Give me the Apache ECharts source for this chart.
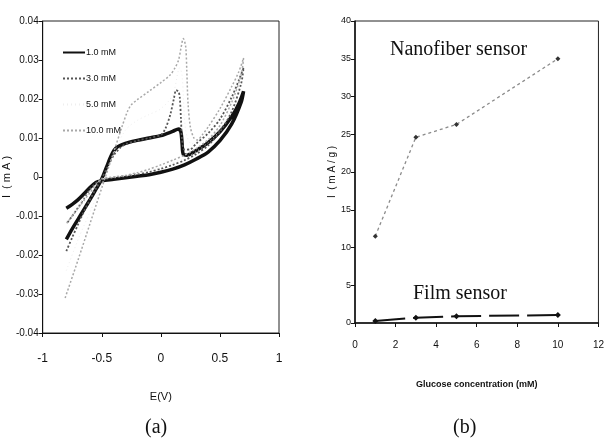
<!DOCTYPE html>
<html>
<head>
<meta charset="utf-8">
<script src="https://cdn.jsdelivr.net/npm/echarts@6/dist/echarts.min.js"></script>
<style>
  html, body { margin: 0; padding: 0; background: #fff; }
  #chart { width: 607px; height: 446px; }
</style>
</head>
<body>
<div id="chart"></div>
<script>
// --- (a) voltamogramas: pares [E (V), I (mA)] ---
const cvLabels = ['1.0 mM', '3.0 mM', '5.0 mM', '10.0 mM'];

const cv1mM = [
  [-0.80,-0.016],[-0.75,-0.0133],[-0.70,-0.0108],[-0.65,-0.0083],[-0.60,-0.0058],[-0.55,-0.0032],
  [-0.50,-0.0005],[-0.46,0.0025],[-0.42,0.0055],[-0.38,0.0074],[-0.30,0.0086],[-0.20,0.0094],
  [-0.10,0.0100],[0.00,0.0106],[0.10,0.0117],[0.15,0.0123],[0.17,0.0115],[0.18,0.0085],
  [0.19,0.0058],[0.22,0.0056],[0.30,0.0068],[0.40,0.0088],[0.50,0.0116],[0.60,0.0155],
  [0.66,0.0188],[0.70,0.0220],
  [0.68,0.0192],[0.60,0.0136],[0.50,0.0093],[0.40,0.0064],[0.30,0.0046],[0.20,0.0031],
  [0.10,0.0020],[0.00,0.0012],[-0.10,0.0006],[-0.20,0.0002],[-0.30,-0.0002],[-0.40,-0.0006],
  [-0.50,-0.0010],[-0.55,-0.0014],[-0.60,-0.0027],[-0.65,-0.0043],[-0.70,-0.0058],
  [-0.75,-0.0070],[-0.80,-0.0080]
];

const cv3mM = [
  [-0.80,-0.019],[-0.75,-0.0155],[-0.70,-0.0121],[-0.65,-0.0088],[-0.60,-0.0058],[-0.55,-0.0030],
  [-0.50,-0.0004],[-0.45,0.0026],[-0.40,0.0055],[-0.35,0.0073],[-0.30,0.0084],[-0.20,0.0093],
  [-0.10,0.0100],[0.00,0.0108],[0.04,0.0125],[0.08,0.0160],[0.11,0.0200],[0.13,0.0223],
  [0.15,0.0218],[0.16,0.0205],[0.17,0.0150],[0.18,0.0095],[0.20,0.0070],[0.25,0.0071],
  [0.30,0.0086],[0.40,0.0112],[0.50,0.0148],[0.60,0.0205],[0.66,0.0248],[0.70,0.0280],
  [0.68,0.0240],[0.60,0.0168],[0.50,0.0116],[0.40,0.0081],[0.30,0.0059],[0.20,0.0043],
  [0.10,0.0031],[0.00,0.0021],[-0.10,0.0013],[-0.20,0.0007],[-0.30,0.0002],[-0.40,-0.0002],
  [-0.50,-0.0007],[-0.55,-0.0016],[-0.60,-0.0032],[-0.65,-0.0055],[-0.70,-0.0078],
  [-0.75,-0.0100],[-0.80,-0.0120]
];

const cv5mM = [
  [-0.80,-0.024],[-0.70,-0.016],[-0.60,-0.009],[-0.50,-0.002],[-0.40,0.006],[-0.30,0.012],
  [-0.20,0.0145],[-0.10,0.016],[0.00,0.0175],[0.10,0.021],[0.16,0.028],[0.18,0.026],
  [0.21,0.012],[0.26,0.0085],[0.40,0.012],[0.50,0.016],[0.60,0.0215],[0.70,0.029],
  [0.60,0.018],[0.50,0.012],[0.40,0.0088],[0.30,0.0065],[0.20,0.0048],[0.00,0.0025],
  [-0.20,0.0008],[-0.40,-0.0001],[-0.50,-0.0006],[-0.60,-0.0035],[-0.70,-0.0075],[-0.80,-0.0115]
];

const cv10mM = [
  [-0.81,-0.0310],[-0.70,-0.0212],[-0.60,-0.0120],[-0.50,-0.0028],[-0.40,0.0063],[-0.33,0.0128],
  [-0.28,0.0170],[-0.25,0.0185],[-0.20,0.0198],[-0.10,0.0220],[0.00,0.0242],[0.08,0.0262],
  [0.12,0.0280],[0.15,0.0300],[0.17,0.0330],[0.19,0.0355],[0.21,0.0335],[0.22,0.0270],
  [0.23,0.0190],[0.25,0.0128],[0.28,0.0100],[0.31,0.0095],[0.35,0.0108],[0.40,0.0128],
  [0.50,0.0175],[0.60,0.0232],[0.66,0.0270],[0.70,0.0305],
  [0.68,0.0262],[0.60,0.0192],[0.50,0.0132],[0.40,0.0096],[0.30,0.0073],[0.20,0.0056],
  [0.10,0.0043],[0.00,0.0031],[-0.10,0.0020],[-0.20,0.0011],[-0.30,0.0004],[-0.40,0.0000],
  [-0.50,-0.0005],[-0.55,-0.0020],[-0.60,-0.0040],[-0.70,-0.0080],[-0.80,-0.0120]
];

// --- (b) resposta vs concentração ---
const glucoseConc = [1, 3, 5, 10];
const nanofiberResp = [11.5, 24.6, 26.3, 35.0];
const filmResp = [0.25, 0.7, 0.9, 1.05];

const narrow = "'Liberation Sans Narrow', 'Liberation Sans', sans-serif";
const serif = "'Liberation Serif', 'DejaVu Serif', serif";

const chart = echarts.init(document.getElementById('chart'));

const frame = { show: true, borderColor: '#222', borderWidth: 1, backgroundColor: 'transparent' };

const option = {
  backgroundColor: '#fff',
  animation: false,
  grid: [
    Object.assign({ left: 41, top: 21, width: 238, height: 312 }, frame),
    Object.assign({ left: 355, top: 21, width: 250, height: 302 }, frame)
  ],
  xAxis: [{
    gridIndex: 0, type: 'value', min: -1, max: 1, interval: 0.5,
    name: 'E(V)', nameLocation: 'middle', nameGap: 58,
    nameTextStyle: { fontFamily: narrow, fontSize: 11, color: '#111' },
    axisLine: { onZero: false, lineStyle: { color: '#111' } },
    axisTick: { length: 4, lineStyle: { color: '#111' } },
    axisLabel: { fontFamily: narrow, fontSize: 12, color: '#111', margin: 20 },
    splitLine: { show: false }
  }, {
    gridIndex: 1, type: 'value', min: 0, max: 12, interval: 2,
    name: 'Glucose concentration (mM)', nameLocation: 'middle', nameGap: 57,
    nameTextStyle: { fontFamily: narrow, fontSize: 9, color: '#111', fontWeight: 'bold' },
    axisLine: { onZero: false, lineStyle: { color: '#111', width: 1.5 } },
    axisTick: { length: 4, lineStyle: { color: '#111' } },
    axisLabel: { fontFamily: narrow, fontSize: 10, color: '#111', margin: 17 },
    splitLine: { show: false }
  }],
  yAxis: [{
    gridIndex: 0, type: 'value', min: -0.04, max: 0.04, interval: 0.01,
    name: 'I  ( m A )', nameLocation: 'middle', nameGap: 22, nameRotate: 90,
    nameTextStyle: { fontFamily: narrow, fontSize: 11, color: '#111' },
    axisLine: { onZero: false, lineStyle: { color: '#111' } },
    axisTick: { length: 4, lineStyle: { color: '#111' } },
    axisLabel: {
      fontFamily: narrow, fontSize: 10, color: '#111', margin: 4,
      formatter: v => String(Math.round(v * 100) / 100)
    },
    splitLine: { show: false }
  }, {
    gridIndex: 1, type: 'value', min: 0, max: 40, interval: 5,
    name: 'I  ( m A / g )', nameLocation: 'middle', nameGap: 6, nameRotate: 90,
    nameTextStyle: { fontFamily: narrow, fontSize: 10, color: '#111' },
    axisLine: { onZero: false, lineStyle: { color: '#111', width: 1.5 } },
    axisTick: { length: 4, lineStyle: { color: '#111' } },
    axisLabel: { fontFamily: narrow, fontSize: 9, color: '#111', margin: 4 },
    splitLine: { show: false }
  }],
  legend: {
    data: cvLabels,
    orient: 'vertical', left: 57, top: 43,
    itemWidth: 22, itemHeight: 10, itemGap: 17,
    itemStyle: { opacity: 0 },
    textStyle: { fontFamily: narrow, fontSize: 9, color: '#111', padding: [0, 0, 0, -4] }
  },
  graphic: [
    { type: 'text', left: 390, top: 40, style: { text: 'Nanofiber sensor', font: '20px ' + serif, fill: '#111' } },
    { type: 'text', left: 413, top: 284, style: { text: 'Film sensor', font: '20px ' + serif, fill: '#111' } },
    { type: 'text', left: 145, top: 418, style: { text: '(a)', font: '20px ' + serif, fill: '#111' } },
    { type: 'text', left: 453, top: 418, style: { text: '(b)', font: '20px ' + serif, fill: '#111' } }
  ],
  series: [
    {
      name: cvLabels[0], type: 'line', xAxisIndex: 0, yAxisIndex: 0, data: cv1mM,
      symbol: 'none', smooth: 0.3, color: '#111',
      lineStyle: { color: '#111', width: 3.5 }
    },
    {
      name: cvLabels[1], type: 'line', xAxisIndex: 0, yAxisIndex: 0, data: cv3mM,
      symbol: 'none', smooth: 0.3, color: '#555',
      lineStyle: { color: '#555', width: 1.8, type: [2, 2] }
    },
    {
      name: cvLabels[2], type: 'line', xAxisIndex: 0, yAxisIndex: 0, data: cv5mM,
      symbol: 'none', smooth: 0.3, color: '#f2f2f2',
      lineStyle: { color: '#eeeeee', width: 1, type: [1, 3] }
    },
    {
      name: cvLabels[3], type: 'line', xAxisIndex: 0, yAxisIndex: 0, data: cv10mM,
      symbol: 'none', smooth: 0.3, color: '#aaa',
      lineStyle: { color: '#a8a8a8', width: 1.5, type: [2, 2] }
    },
    {
      name: 'Nanofiber sensor', type: 'line', xAxisIndex: 1, yAxisIndex: 1,
      data: glucoseConc.map((c, i) => [c, nanofiberResp[i]]),
      symbol: 'diamond', symbolSize: 5,
      itemStyle: { color: '#333' },
      lineStyle: { color: '#8a8a8a', width: 1.3, type: [3, 3] }
    },
    {
      name: 'Film sensor', type: 'line', xAxisIndex: 1, yAxisIndex: 1,
      data: glucoseConc.map((c, i) => [c, filmResp[i]]),
      symbol: 'diamond', symbolSize: 6,
      itemStyle: { color: '#111' },
      lineStyle: { color: '#111', width: 2, type: [30, 8] }
    }
  ]
};

chart.setOption(option);
</script>
</body>
</html>
